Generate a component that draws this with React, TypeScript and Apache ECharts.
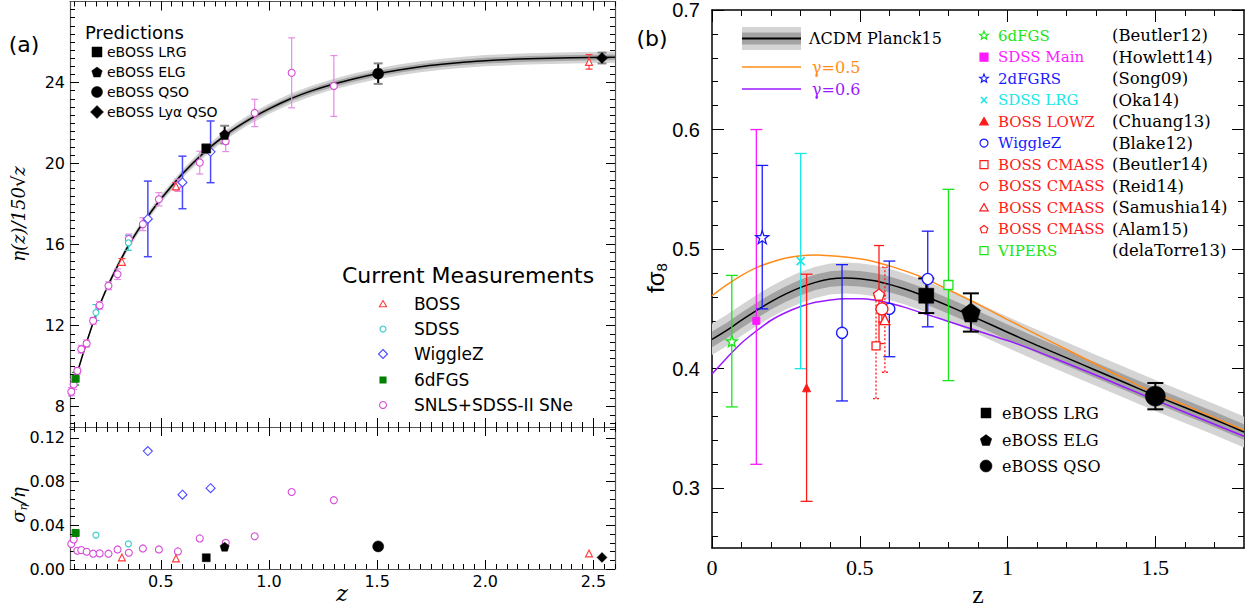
import React, { useEffect, useRef } from 'react';
import * as echarts from 'echarts';

// ================= Panel (a), upper: eta(z)/150 sqrt(z) =================
const etaCurveZ = [0.08, 0.1, 0.12, 0.15, 0.2, 0.25, 0.3, 0.35, 0.4, 0.45, 0.5, 0.6, 0.7, 0.8, 0.9, 1.0, 1.1, 1.2, 1.3, 1.4, 1.5, 1.6, 1.7, 1.8, 1.9, 2.0, 2.2, 2.4, 2.6];
const etaCurveV = [8.5, 9.2, 9.9, 10.95, 12.55, 13.85, 14.95, 15.95, 16.8, 17.55, 18.25, 19.5, 20.55, 21.42, 22.12, 22.7, 23.2, 23.6, 23.93, 24.2, 24.43, 24.62, 24.78, 24.9, 25.0, 25.08, 25.17, 25.22, 25.25];
const etaBandOuterFrac = 0.011;
const etaBandInnerFrac = 0.0055;

// SNLS+SDSS-II SNe
const snZ = [0.086, 0.097, 0.114, 0.132, 0.157, 0.187, 0.217, 0.258, 0.3, 0.352, 0.417, 0.491, 0.579, 0.68, 0.8, 0.934, 1.105, 1.3];
const snEta = [8.74, 9.1, 9.77, 10.84, 11.12, 12.24, 13.0, 13.97, 14.54, 16.28, 17.01, 18.24, 18.93, 20.05, 21.1, 22.5, 24.48, 23.83];
const snSig = [0.023, 0.027, 0.0167, 0.0173, 0.0158, 0.014, 0.0143, 0.014, 0.0179, 0.0149, 0.0188, 0.0179, 0.0161, 0.028, 0.024, 0.03, 0.0705, 0.063];
// BOSS
const bossZ = [0.32, 0.57, 2.48];
const bossEta = [15.15, 18.88, 25.02];
const bossSig = [0.0106, 0.0097, 0.0143];
// SDSS
const sdssZ = [0.2, 0.35];
const sdssEta = [12.65, 16.09];
const sdssSig = [0.031, 0.023];
// WiggleZ
const wigZ = [0.44, 0.6, 0.73];
const wigEta = [17.27, 19.07, 20.58];
const wigSig = [0.108, 0.068, 0.074];
// 6dFGS
const sixZ = [0.106];
const sixEta = [9.38];
const sixSig = [0.033];
// eBOSS predictions
const predNames = ['eBOSS LRG', 'eBOSS ELG', 'eBOSS QSO', 'eBOSS Ly\u03b1 QSO'];
const predZ = [0.71, 0.795, 1.505, 2.54];
const predEta = [20.74, 21.43, 24.44, 25.21];
const predSig = [0.0103, 0.0204, 0.0207, 0.0106];

const curNames = ['BOSS', 'SDSS', 'WiggleZ', '6dFGS', 'SNLS+SDSS-II SNe'];

// axis ticks (panel a)
const aXMajor = [0.5, 1.0, 1.5, 2.0, 2.5];
const aTopYMajor = [8, 12, 16, 20, 24];
const aBotYMajor = [0, 0.04, 0.08, 0.12];

// ================= Panel (b): f sigma8 =================
const fsCurveZ = [0, 0.05, 0.1, 0.15, 0.2, 0.25, 0.3, 0.35, 0.4, 0.45, 0.5, 0.55, 0.6, 0.65, 0.7, 0.75, 0.8, 0.9, 1.0, 1.1, 1.2, 1.3, 1.4, 1.5, 1.6, 1.7, 1.8];
const lcdmFs = [0.4245, 0.432, 0.4405, 0.4485, 0.456, 0.4625, 0.468, 0.4722, 0.475, 0.4758, 0.4752, 0.4735, 0.4705, 0.4668, 0.4625, 0.4577, 0.4525, 0.4417, 0.4305, 0.4195, 0.409, 0.3985, 0.388, 0.3775, 0.3675, 0.3575, 0.347];
const gamma05Fs = [0.461, 0.47, 0.478, 0.4845, 0.489, 0.4925, 0.4945, 0.495, 0.4945, 0.4935, 0.492, 0.4895, 0.486, 0.482, 0.4775, 0.472, 0.466, 0.454, 0.441, 0.4285, 0.416, 0.4035, 0.391, 0.3795, 0.3695, 0.359, 0.3485];
const gamma06Fs = [0.3955, 0.409, 0.4215, 0.4315, 0.4405, 0.447, 0.452, 0.4555, 0.4575, 0.4585, 0.4585, 0.4575, 0.455, 0.4515, 0.4475, 0.4435, 0.4395, 0.4315, 0.4235, 0.4145, 0.4045, 0.3945, 0.384, 0.3738, 0.3635, 0.3535, 0.3435];
const lcdmOuterHalf = 0.013;
const lcdmInnerHalf = 0.0065;

// measurements: [z, fsigma8, low, high]
const rsd6dFGS = [[0.067, 0.423, 0.368, 0.478]];
const rsdSdssMain = [[0.15, 0.44, 0.32, 0.6]];
const rsd2dFGRS = [[0.17, 0.51, 0.45, 0.57]];
const rsdSdssLrg = [[0.3, 0.49, 0.4, 0.58]];
const rsdLowz = [[0.32, 0.384, 0.289, 0.479]];
const rsdWiggleZ = [[0.44, 0.43, 0.373, 0.487], [0.6, 0.45, 0.41, 0.49], [0.73, 0.475, 0.435, 0.515]];
const rsdBeutler14 = [[0.555, 0.419, 0.375, 0.463]];
const rsdReid14 = [[0.575, 0.45, 0.439, 0.461]];
const rsdSamushia14 = [[0.585, 0.441, 0.397, 0.485]];
const rsdAlam15 = [[0.565, 0.462, 0.421, 0.503]];
const rsdVipers = [[0.8, 0.47, 0.39, 0.55]];
const ebossFsZ = [0.725, 0.876, 1.5];
const ebossFsV = [0.461, 0.447, 0.377];
const ebossFsErr = [0.0145, 0.016, 0.011];
const ebossFsNames = ['eBOSS LRG', 'eBOSS ELG', 'eBOSS QSO'];

const rLegNames = ['6dFGS', 'SDSS Main', '2dFGRS', 'SDSS LRG', 'BOSS LOWZ', 'WiggleZ', 'BOSS CMASS', 'BOSS CMASS', 'BOSS CMASS', 'BOSS CMASS', 'VIPERS'];
const rLegRefs = ['(Beutler12)', '(Howlett14)', '(Song09)', '(Oka14)', '(Chuang13)', '(Blake12)', '(Beutler14)', '(Reid14)', '(Samushia14)', '(Alam15)', '(delaTorre13)'];

const bXMajor = [0, 0.5, 1, 1.5];
const bYMajor = [0.3, 0.4, 0.5, 0.6, 0.7];

// ================= styling =================
const C_SN = '#d84ad8';
const C_SN_BAR = '#e68be6';
const C_BOSS = '#ff3b3b';
const C_SDSS = '#35cccc';
const C_WIG = '#4a4aff';
const C_6DF = '#008000';
const GREEN = '#19e619';
const MAGENTA = '#ff19ff';
const BLUE = '#1a1aff';
const CYAN = '#19e6e6';
const RED = '#ff1a1a';
const ORANGE = '#ff8c1a';
const PURPLE = '#9a1aff';
const rLegColors = [GREEN, MAGENTA, BLUE, CYAN, RED, BLUE, RED, RED, RED, RED, GREEN];
const rLegShapes = ['star', 'square', 'star', 'cross', 'triangle', 'circle', 'square', 'circle', 'triangle', 'pentagon', 'square'];
const rLegFilled = [false, true, false, false, true, false, false, false, false, false, false];

const PENT = 'path://M0,-10L9.51,-3.09L5.88,8.09L-5.88,8.09L-9.51,-3.09Z';
const STAR = 'path://M0,-10L2.35,-3.24L9.51,-3.09L3.8,1.24L5.88,8.09L0,4L-5.88,8.09L-3.8,1.24L-9.51,-3.09L-2.35,-3.24Z';
const CROSS = 'path://M0,0L10,10M10,0L0,10';

const range = (a: number, b: number, step: number) => {
  const out: number[] = [];
  for (let v = a; v <= b + 1e-9; v += step) out.push(Math.round(v * 1e6) / 1e6);
  return out;
};

function mkAxis(grid: number, position: string, min: number, max: number, ticks: number[], len: number, lineColor: string, lineW: number, showLine: boolean, label?: any) {
  return {
    type: 'value', gridIndex: grid, position, min, max,
    axisLine: { show: showLine, onZero: false, lineStyle: { color: lineColor, width: lineW } },
    axisTick: { show: true, inside: true, length: len, customValues: ticks, lineStyle: { color: '#000', width: 1 } },
    axisLabel: label
      ? { show: true, customValues: label.values, formatter: label.fmt, color: '#000', fontFamily: label.font, fontSize: label.size, margin: label.margin, showMinLabel: true, showMaxLabel: true }
      : { show: false },
    splitLine: { show: false },
    minorTick: { show: false },
    minorSplitLine: { show: false },
  };
}

function bandSeries(xi: number, yi: number, zs: number[], lo: number[], hi: number[], color: string, z: number) {
  return {
    type: 'custom', xAxisIndex: xi, yAxisIndex: yi, silent: true, z,
    data: [[zs[0], lo[0]]],
    renderItem: (_p: any, api: any) => {
      const pts: number[][] = [];
      for (let i = 0; i < zs.length; i++) pts.push(api.coord([zs[i], hi[i]]));
      for (let i = zs.length - 1; i >= 0; i--) pts.push(api.coord([zs[i], lo[i]]));
      return { type: 'polygon', shape: { points: pts }, style: { fill: color, stroke: 'none' } };
    },
  };
}

function errSeries(xi: number, yi: number, data: number[][], color: string, capW: number, lw: number, capColor?: string, dashed?: boolean) {
  return {
    type: 'custom', xAxisIndex: xi, yAxisIndex: yi, silent: true, z: 4,
    data,
    renderItem: (_p: any, api: any) => {
      const x = api.value(0);
      const a = api.coord([x, api.value(2)]);
      const b = api.coord([x, api.value(3)]);
      const st: any = { stroke: color, lineWidth: lw, fill: 'none' };
      if (dashed) st.lineDash = [2, 2];
      const cs: any = { stroke: capColor || color, lineWidth: lw, fill: 'none' };
      if (dashed) cs.lineDash = [2, 2];
      return {
        type: 'group', children: [
          { type: 'line', shape: { x1: a[0], y1: a[1], x2: b[0], y2: b[1] }, style: st },
          { type: 'line', shape: { x1: a[0] - capW / 2, y1: a[1], x2: a[0] + capW / 2, y2: a[1] }, style: cs },
          { type: 'line', shape: { x1: b[0] - capW / 2, y1: b[1], x2: b[0] + capW / 2, y2: b[1] }, style: cs },
        ],
      };
    },
  };
}

function scat(xi: number, yi: number, data: number[][], symbol: string, size: number, color: string, filled: boolean, lw: number, z = 5) {
  return {
    type: 'scatter', xAxisIndex: xi, yAxisIndex: yi, silent: true, z,
    data, symbol, symbolSize: size,
    itemStyle: { color: filled ? color : (symbol === CROSS ? 'transparent' : '#fff'), borderColor: color, borderWidth: lw, opacity: 1 },
  };
}

function lineSeries(xi: number, yi: number, zs: number[], vs: number[], color: string, w: number, z: number) {
  return {
    type: 'line', xAxisIndex: xi, yAxisIndex: yi, silent: true, z,
    data: zs.map((x, i) => [x, vs[i]]), showSymbol: false, symbol: 'none', smooth: 0.3,
    lineStyle: { color, width: w },
  };
}

const pairs = (zs: number[], vs: number[]) => zs.map((x, i) => [x, vs[i]]);
const fracErr = (zs: number[], vs: number[], ss: number[]) => zs.map((x, i) => [x, vs[i], vs[i] * (1 - ss[i]), vs[i] * (1 + ss[i])]);

// legend marker graphic
function marker(shape: string, cx: number, cy: number, s: number, color: string, filled: boolean, lw = 1.2): any {
  const style = { fill: filled ? color : '#fff', stroke: color, lineWidth: lw };
  const poly = (n: number, r: number, dy = 0) => Array.from({ length: n }, (_, i) => {
    const a = -Math.PI / 2 + (i * 2 * Math.PI) / n;
    return [cx + r * Math.cos(a), cy + dy + r * Math.sin(a)];
  });
  switch (shape) {
    case 'square': return { type: 'rect', shape: { x: cx - s / 2, y: cy - s / 2, width: s, height: s }, style };
    case 'circle': return { type: 'circle', shape: { cx, cy, r: s / 2 }, style };
    case 'triangle': return { type: 'polygon', shape: { points: poly(3, s * 0.6, s * 0.1) }, style };
    case 'diamond': return { type: 'polygon', shape: { points: [[cx, cy - s / 2], [cx + s / 2, cy], [cx, cy + s / 2], [cx - s / 2, cy]] }, style };
    case 'pentagon': return { type: 'polygon', shape: { points: poly(5, s / 2, s * 0.05) }, style };
    case 'star': {
      const pts = Array.from({ length: 10 }, (_, i) => {
        const a = -Math.PI / 2 + (i * Math.PI) / 5;
        const r = i % 2 === 0 ? s / 2 : s / 4.6;
        return [cx + r * Math.cos(a), cy + r * Math.sin(a)];
      });
      return { type: 'polygon', shape: { points: pts }, style };
    }
    case 'cross':
      return {
        type: 'group', children: [
          { type: 'line', shape: { x1: cx - s / 2.6, y1: cy - s / 2.6, x2: cx + s / 2.6, y2: cy + s / 2.6 }, style: { stroke: color, lineWidth: 1.5 } },
          { type: 'line', shape: { x1: cx + s / 2.6, y1: cy - s / 2.6, x2: cx - s / 2.6, y2: cy + s / 2.6 }, style: { stroke: color, lineWidth: 1.5 } },
        ],
      };
  }
  return null;
}

function txt(text: string, x: number, y: number, size: number, family: string, color = '#000', align = 'left', extra: any = {}) {
  return {
    type: 'text', x, y, silent: true, z: 100,
    style: {
      text, fill: color, fontSize: size, fontFamily: family,
      align, textAlign: align, verticalAlign: 'middle', textVerticalAlign: 'middle', ...extra,
    },
  };
}

function buildOption(): any {
  const AL = '#555';
  const AXL = { font: 'DejaVu Sans', size: 16, margin: 5 };
  const xAxes = [
    // grid 0 (panel a upper)
    mkAxis(0, 'bottom', 0.08, 2.6, aXMajor, 9, AL, 1.2, true),
    mkAxis(0, 'bottom', 0.08, 2.6, range(0.1, 2.6, 0.05), 5, AL, 1.2, false),
    mkAxis(0, 'top', 0.08, 2.6, aXMajor, 9, AL, 1.2, true),
    mkAxis(0, 'top', 0.08, 2.6, range(0.1, 2.6, 0.05), 5, AL, 1.2, false),
    // grid 1 (panel a lower)
    mkAxis(1, 'bottom', 0.08, 2.6, aXMajor, 9, AL, 1.2, true, { values: aXMajor, fmt: (v: number) => v.toFixed(1), ...AXL, margin: 4 }),
    mkAxis(1, 'bottom', 0.08, 2.6, range(0.1, 2.6, 0.05), 5, AL, 1.2, false),
    mkAxis(1, 'top', 0.08, 2.6, aXMajor, 9, AL, 1.2, true),
    mkAxis(1, 'top', 0.08, 2.6, range(0.1, 2.6, 0.05), 5, AL, 1.2, false),
    // grid 2 (panel b)
    mkAxis(2, 'bottom', 0, 1.8, bXMajor, 12, '#000', 1.5, true, { values: bXMajor, fmt: (v: number) => String(v), font: 'Liberation Serif', size: 22, margin: 8 }),
    mkAxis(2, 'bottom', 0, 1.8, range(0.1, 1.7, 0.1), 6, '#000', 1.5, false),
    mkAxis(2, 'top', 0, 1.8, bXMajor, 12, '#000', 1.5, true),
    mkAxis(2, 'top', 0, 1.8, range(0.1, 1.7, 0.1), 6, '#000', 1.5, false),
  ];
  const yAxes = [
    mkAxis(0, 'left', 7, 28, aTopYMajor, 9, AL, 1.2, true, { values: aTopYMajor, fmt: (v: number) => String(v), ...AXL }),
    mkAxis(0, 'left', 7, 28, range(7.2, 27.6, 0.4), 5, AL, 1.2, false),
    mkAxis(0, 'right', 7, 28, aTopYMajor, 9, AL, 1.2, true),
    mkAxis(0, 'right', 7, 28, range(7.2, 27.6, 0.4), 5, AL, 1.2, false),
    mkAxis(1, 'left', 0, 0.13, aBotYMajor, 9, AL, 1.2, true, { values: aBotYMajor, fmt: (v: number) => v.toFixed(2), ...AXL }),
    mkAxis(1, 'left', 0, 0.13, range(0.008, 0.128, 0.008), 5, AL, 1.2, false),
    mkAxis(1, 'right', 0, 0.13, aBotYMajor, 9, AL, 1.2, true),
    mkAxis(1, 'right', 0, 0.13, range(0.008, 0.128, 0.008), 5, AL, 1.2, false),
    mkAxis(2, 'left', 0.25, 0.7, bYMajor, 12, '#000', 1.5, true, { values: bYMajor, fmt: (v: number) => v.toFixed(1), font: 'Liberation Sans', size: 20, margin: 12 }),
    mkAxis(2, 'left', 0.25, 0.7, range(0.26, 0.68, 0.02), 6, '#000', 1.5, false),
    mkAxis(2, 'right', 0.25, 0.7, bYMajor, 12, '#000', 1.5, true),
    mkAxis(2, 'right', 0.25, 0.7, range(0.26, 0.68, 0.02), 6, '#000', 1.5, false),
  ];

  const series: any[] = [];
  // ----- panel a upper -----
  series.push(bandSeries(0, 0, etaCurveZ, etaCurveV.map((v) => v * (1 - etaBandOuterFrac)), etaCurveV.map((v) => v * (1 + etaBandOuterFrac)), '#d4d4d4', 1));
  series.push(bandSeries(0, 0, etaCurveZ, etaCurveV.map((v) => v * (1 - etaBandInnerFrac)), etaCurveV.map((v) => v * (1 + etaBandInnerFrac)), '#a6a6a6', 2));
  series.push(lineSeries(0, 0, etaCurveZ, etaCurveV, '#000', 1.5, 3));
  series.push(errSeries(0, 0, fracErr(snZ, snEta, snSig), C_SN_BAR, 7, 1.2));
  series.push(errSeries(0, 0, fracErr(bossZ, bossEta, bossSig), C_BOSS, 7, 1.2));
  series.push(errSeries(0, 0, fracErr(sdssZ, sdssEta, sdssSig), C_SDSS, 7, 1.2));
  series.push(errSeries(0, 0, fracErr(wigZ, wigEta, wigSig), C_WIG, 8, 1.5));
  series.push(errSeries(0, 0, fracErr(sixZ, sixEta, sixSig), C_6DF, 7, 1.2));
  series.push(errSeries(0, 0, fracErr(predZ, predEta, predSig), '#000', 9, 2, '#888'));
  series.push(scat(0, 0, pairs(snZ, snEta), 'circle', 7, C_SN, false, 1.1));
  series.push(scat(0, 0, pairs(bossZ, bossEta), 'triangle', 7, C_BOSS, false, 1.1));
  series.push(scat(0, 0, pairs(sdssZ, sdssEta), 'circle', 6, C_SDSS, false, 1.1));
  series.push(scat(0, 0, pairs(wigZ, wigEta), 'diamond', 9, C_WIG, false, 1.1));
  series.push(scat(0, 0, pairs(sixZ, sixEta), 'rect', 7, C_6DF, true, 1));
  const predSym = ['rect', PENT, 'circle', 'diamond'];
  const predSize = [9, 10, 11, 11];
  predZ.forEach((z, i) => series.push(scat(0, 0, [[z, predEta[i]]], predSym[i], predSize[i], '#000', true, 0.5, 6)));

  // ----- panel a lower -----
  series.push(scat(4, 4, pairs(snZ, snSig), 'circle', 7, C_SN, false, 1.1));
  series.push(scat(4, 4, pairs(bossZ, bossSig), 'triangle', 7, C_BOSS, false, 1.1));
  series.push(scat(4, 4, pairs(sdssZ, sdssSig), 'circle', 6, C_SDSS, false, 1.1));
  series.push(scat(4, 4, pairs(wigZ, wigSig), 'diamond', 9, C_WIG, false, 1.1));
  series.push(scat(4, 4, pairs(sixZ, sixSig), 'rect', 7, C_6DF, true, 1));
  predZ.forEach((z, i) => series.push(scat(4, 4, [[z, predSig[i]]], predSym[i], predSize[i] - (i === 2 ? 0 : 1), '#000', true, 0.5, 6)));

  // ----- panel b -----
  series.push(bandSeries(8, 8, fsCurveZ, lcdmFs.map((v) => v - lcdmOuterHalf), lcdmFs.map((v) => v + lcdmOuterHalf), '#d4d4d4', 1));
  series.push(bandSeries(8, 8, fsCurveZ, lcdmFs.map((v) => v - lcdmInnerHalf), lcdmFs.map((v) => v + lcdmInnerHalf), '#a3a3a3', 2));
  series.push(lineSeries(8, 8, fsCurveZ, gamma05Fs, ORANGE, 1.5, 3));
  series.push(lineSeries(8, 8, fsCurveZ, gamma06Fs, PURPLE, 1.5, 3));
  series.push(lineSeries(8, 8, fsCurveZ, lcdmFs, '#000', 1.5, 3));
  series.push(errSeries(8, 8, rsd6dFGS, GREEN, 12, 1.3));
  series.push(errSeries(8, 8, rsdSdssMain, MAGENTA, 12, 1.3));
  series.push(errSeries(8, 8, rsd2dFGRS, BLUE, 12, 1.3));
  series.push(errSeries(8, 8, rsdSdssLrg, CYAN, 12, 1.3));
  series.push(errSeries(8, 8, rsdLowz, RED, 12, 1.3));
  series.push(errSeries(8, 8, rsdWiggleZ, BLUE, 12, 1.3));
  series.push(errSeries(8, 8, rsdBeutler14, RED, 6, 1.3, RED, true));
  series.push(errSeries(8, 8, rsdSamushia14, RED, 6, 1.3, RED, true));
  series.push(errSeries(8, 8, rsdAlam15, RED, 10, 1.3));
  series.push(errSeries(8, 8, rsdReid14, RED, 8, 1.3));
  series.push(errSeries(8, 8, rsdVipers, GREEN, 12, 1.3));
  series.push(errSeries(8, 8, ebossFsZ.map((z, i) => [z, ebossFsV[i], ebossFsV[i] - ebossFsErr[i], ebossFsV[i] + ebossFsErr[i]]), '#000', 16, 2));
  series.push(scat(8, 8, rsd6dFGS, STAR, 11, GREEN, false, 1.3));
  series.push(scat(8, 8, rsdSdssMain, 'rect', 7, MAGENTA, true, 1));
  series.push(scat(8, 8, rsd2dFGRS, STAR, 13, BLUE, false, 1.3));
  series.push(scat(8, 8, rsdSdssLrg, CROSS, 8, CYAN, false, 1.6));
  series.push(scat(8, 8, rsdLowz, 'triangle', 8, RED, true, 1));
  series.push(scat(8, 8, rsdWiggleZ, 'circle', 11, BLUE, false, 1.3));
  series.push(scat(8, 8, rsdBeutler14, 'rect', 8, RED, false, 1.3));
  series.push(scat(8, 8, rsdSamushia14, 'triangle', 10, RED, false, 1.3));
  series.push(scat(8, 8, rsdAlam15, PENT, 11, RED, false, 1.3));
  series.push(scat(8, 8, rsdReid14, 'circle', 12, RED, false, 1.3));
  series.push(scat(8, 8, rsdVipers, 'rect', 9, GREEN, false, 1.3));
  const ebSym = ['rect', PENT, 'circle'];
  const ebSize = [15, 19, 20];
  ebossFsZ.forEach((z, i) => series.push(scat(8, 8, [[z, ebossFsV[i]]], ebSym[i], ebSize[i], '#000', true, 0.5, 6)));

  // ----- graphics: legends, labels -----
  const g: any[] = [];
  const SANS = 'DejaVu Sans';
  const SERIF = 'DejaVu Serif';
  g.push(txt('(a)', 24, 44, 22, SANS, '#000', 'center'));
  g.push(txt('Predictions', 85, 32, 18, SANS));
  const predShapes = ['square', 'pentagon', 'circle', 'diamond'];
  const predLegSize = [10, 11, 11, 13];
  predNames.forEach((n, i) => {
    g.push(marker(predShapes[i], 97, 52 + 20 * i, predLegSize[i], '#000', true, 0.5));
    g.push(txt(n, 107, 52 + 20 * i, 14, SANS));
  });
  g.push(txt('Current Measurements', 342, 275, 22, SANS));
  const curRows = [304, 329, 354, 380, 405];
  const curShapes = ['triangle', 'circle', 'diamond', 'square', 'circle'];
  const curColors = [C_BOSS, C_SDSS, C_WIG, C_6DF, C_SN];
  const curFilled = [false, false, false, true, false];
  const curSize = [7, 6, 9, 6, 7];
  curNames.forEach((n, i) => {
    g.push(marker(curShapes[i], 383, curRows[i], curSize[i], curColors[i], curFilled[i], 1.1));
    g.push(txt(n, 414, curRows[i], 17, SANS));
  });
  g.push({ ...txt('\u03b7(z)/150\u221az', 0, 0, 18, SERIF, '#000', 'center', { fontStyle: 'italic' }), x: 18, y: 214, rotation: Math.PI / 2 });
  g.push({
    type: 'text', x: 18, y: 505, rotation: Math.PI / 2, silent: true, z: 100,
    style: {
      text: '{a|\u03c3}{s|\u03b7}{a|/\u03b7}', align: 'center', textAlign: 'center', verticalAlign: 'middle', textVerticalAlign: 'middle',
      rich: {
        a: { fontSize: 18, fontFamily: SERIF, fontStyle: 'italic', fill: '#000', color: '#000', lineHeight: 22 },
        s: { fontSize: 11, fontFamily: SERIF, fontStyle: 'italic', fill: '#000', color: '#000', lineHeight: 14, verticalAlign: 'bottom' },
      },
    },
  });
  g.push(txt('z', 342, 593, 22, SERIF, '#000', 'center', { fontStyle: 'italic' }));

  // panel b
  g.push(txt('(b)', 652, 38, 22, SANS, '#000', 'center'));
  g.push({ type: 'rect', shape: { x: 742, y: 27, width: 59, height: 23 }, style: { fill: '#d4d4d4' }, silent: true, z: 100 });
  g.push({ type: 'rect', shape: { x: 742, y: 32.5, width: 59, height: 12 }, style: { fill: '#a3a3a3' }, silent: true, z: 100 });
  g.push({ type: 'line', shape: { x1: 742, y1: 38.5, x2: 801, y2: 38.5 }, style: { stroke: '#000', lineWidth: 2 }, silent: true, z: 100 });
  g.push(txt('\u039bCDM Planck15', 809, 38, 16, SERIF));
  g.push({ type: 'line', shape: { x1: 742, y1: 67, x2: 801, y2: 67 }, style: { stroke: ORANGE, lineWidth: 1.5 }, silent: true, z: 100 });
  g.push(txt('\u03b3=0.5', 812, 67, 16, SERIF, ORANGE));
  g.push({ type: 'line', shape: { x1: 742, y1: 89, x2: 801, y2: 89 }, style: { stroke: PURPLE, lineWidth: 1.5 }, silent: true, z: 100 });
  g.push(txt('\u03b3=0.6', 812, 89, 16, SERIF, PURPLE));
  rLegNames.forEach((n, i) => {
    const y = 35.6 + 21.5 * i;
    const m = marker(rLegShapes[i], 984, y, rLegShapes[i] === 'star' ? 9 : 8, rLegColors[i], rLegFilled[i], 1.2);
    g.push({ ...m, z: 100 });
    g.push(txt(n, 998, y, 15, SERIF, rLegColors[i]));
    g.push(txt(rLegRefs[i], 1112, y, 16.5, SERIF));
  });
  const ebLegShapes = ['square', 'pentagon', 'circle'];
  const ebLegSize = [10, 12, 12];
  const ebRows = [413, 440, 466];
  ebossFsNames.forEach((n, i) => {
    g.push({ ...marker(ebLegShapes[i], 986, ebRows[i], ebLegSize[i], '#000', true, 0.5), z: 100 });
    g.push(txt(n, 1002, ebRows[i], 16, SERIF));
  });
  g.push({
    type: 'text', x: 655, y: 278, rotation: Math.PI / 2, silent: true, z: 100,
    style: {
      text: '{a|f\u03c3}{s|8}', align: 'center', textAlign: 'center', verticalAlign: 'middle', textVerticalAlign: 'middle',
      rich: {
        a: { fontSize: 24, fontFamily: 'Liberation Sans', fill: '#000', color: '#000', lineHeight: 28 },
        s: { fontSize: 15, fontFamily: 'Liberation Sans', fill: '#000', color: '#000', lineHeight: 18, verticalAlign: 'bottom' },
      },
    },
  });
  g.push(txt('z', 978, 594, 26, 'Liberation Serif', '#000', 'center'));

  return {
    animation: false,
    backgroundColor: '#fff',
    grid: [
      { left: 70, top: 1.5, width: 545, height: 425.5 },
      { left: 70, top: 427, width: 545, height: 142 },
      { left: 712, top: 8, width: 532, height: 540 },
    ],
    xAxis: xAxes,
    yAxis: yAxes,
    series,
    graphic: { elements: g },
  };
}

export default function App() {
  const ref = useRef<HTMLDivElement>(null);
  useEffect(() => {
    const chart = echarts.init(ref.current as HTMLDivElement, undefined, { renderer: 'svg' });
    chart.setOption(buildOption());
    return () => chart.dispose();
  }, []);
  return <div ref={ref} style={{ position: 'absolute', left: 0, top: 0, width: 1250, height: 607, background: '#fff' }} />;
}
